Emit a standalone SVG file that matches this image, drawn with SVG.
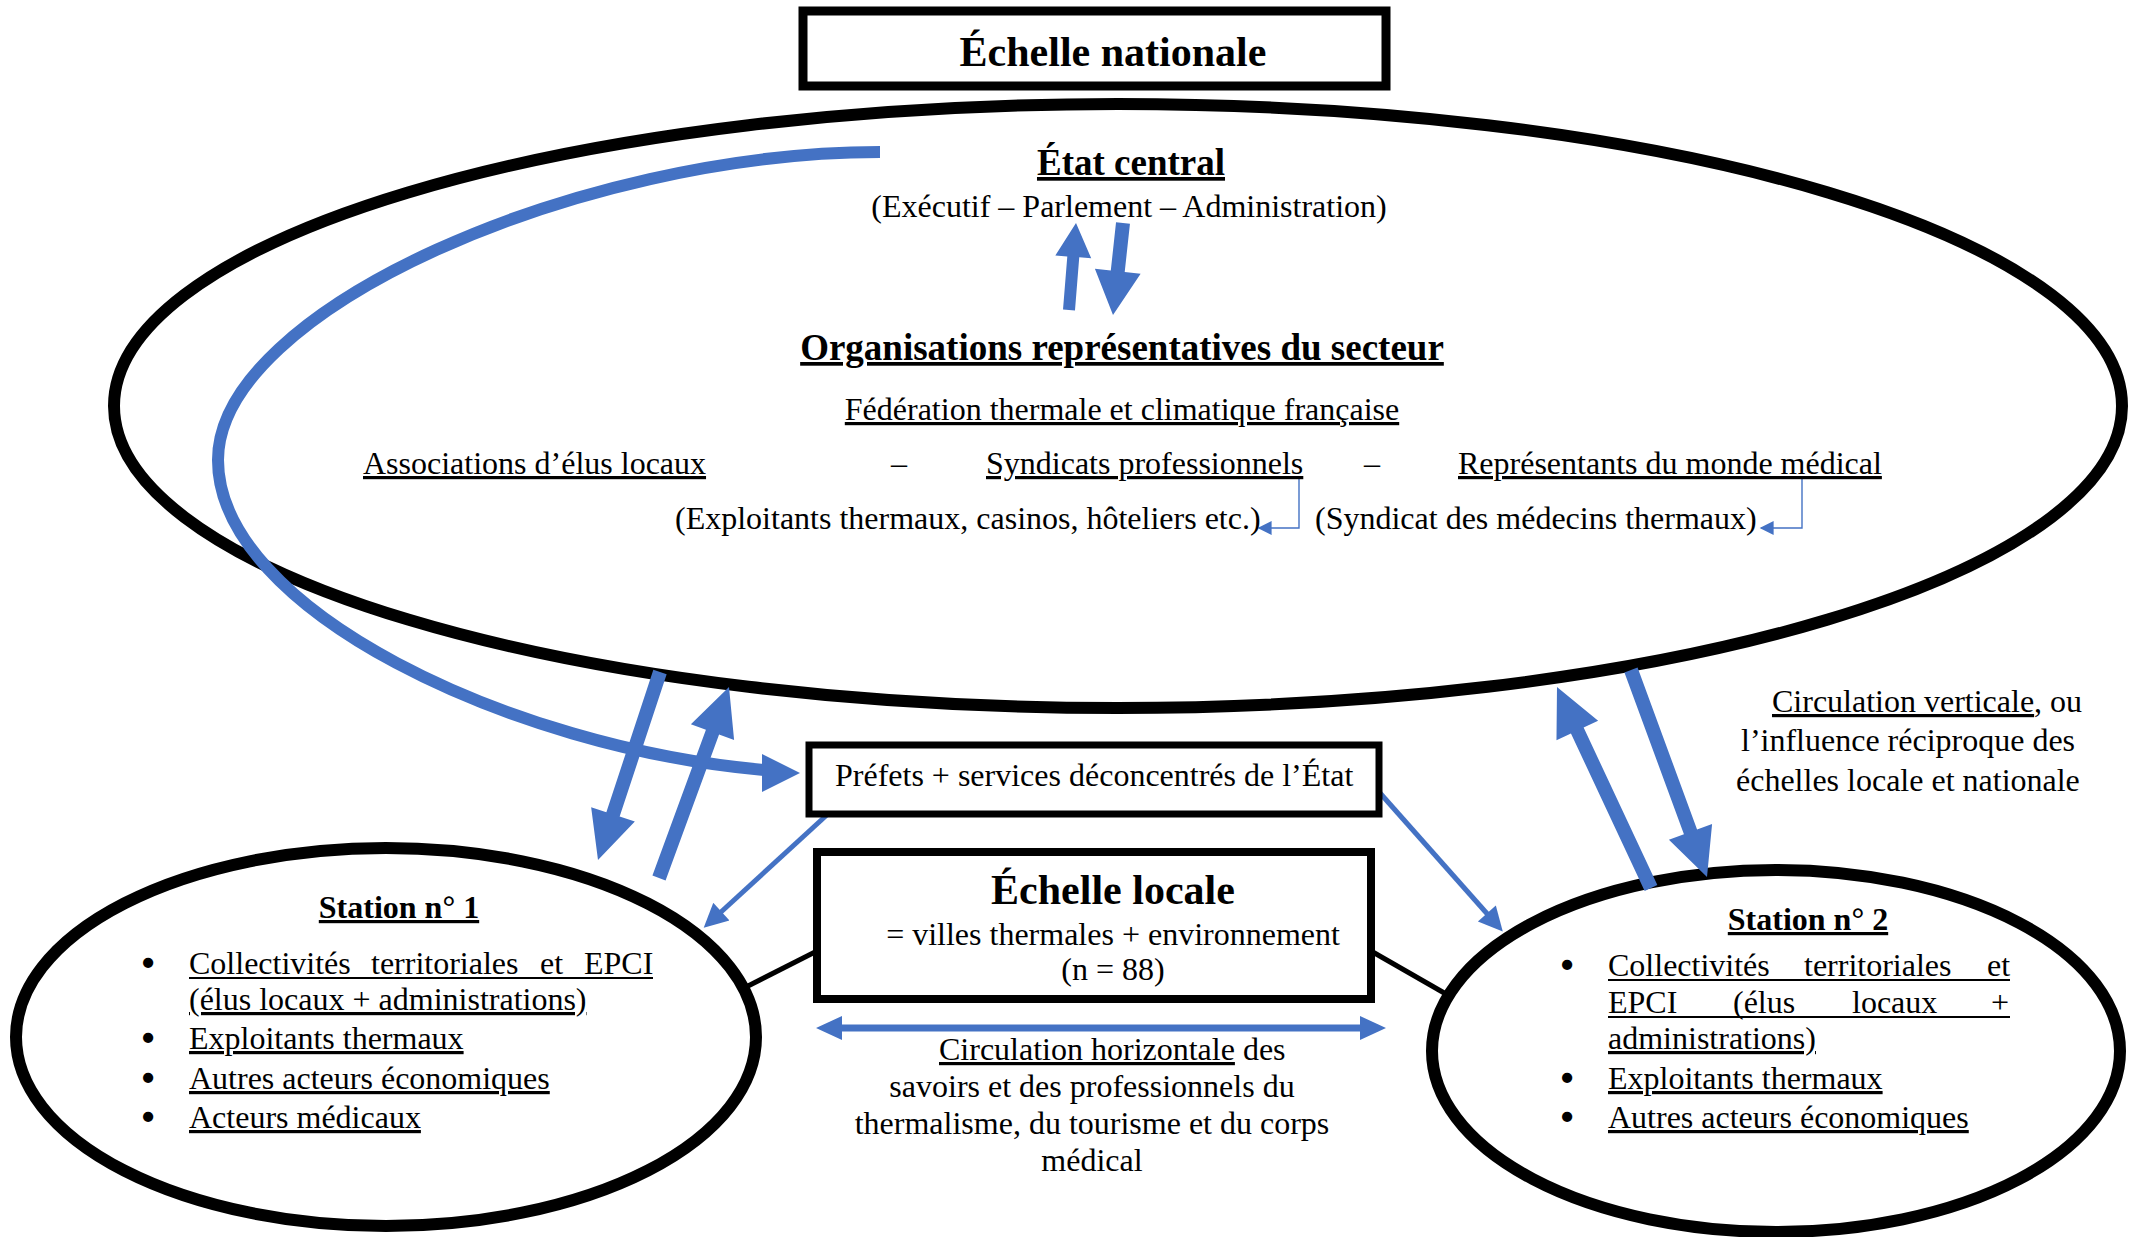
<svg xmlns="http://www.w3.org/2000/svg" width="2141" height="1237" viewBox="0 0 2141 1237">
<style>
text{font-family:"Liberation Serif","Times New Roman",serif;fill:#000}
.t32{font-size:32px}
.b37{font-size:37px;font-weight:bold}
.b42{font-size:42px;font-weight:bold}
.b32{font-size:32px;font-weight:bold}
.bul{font-size:32px;text-anchor:middle;stroke:#000;stroke-width:2.6}
.u{text-decoration:underline}
.mid{text-anchor:middle}
.oval{fill:none;stroke:#000;stroke-width:12}
.box{fill:#fff;stroke:#000}
.blk{stroke:#000;stroke-width:5;fill:none}
.blue{fill:#4472C4}
.thin{stroke:#4472C4;stroke-width:5;fill:none}
.elbow{stroke:#4472C4;stroke-width:1.4;fill:none}
.ul{stroke:#000;stroke-width:1.8}
</style>
<defs>
<marker id="ah" viewBox="0 0 10 10" refX="7" refY="5" markerWidth="26" markerHeight="24" markerUnits="userSpaceOnUse" orient="auto">
<path d="M0,0 L10,5 L0,10 z" fill="#4472C4"/>
</marker>
<marker id="ahs" viewBox="0 0 10 10" refX="9" refY="5" markerWidth="15" markerHeight="14" markerUnits="userSpaceOnUse" orient="auto">
<path d="M0,0 L10,5 L0,10 z" fill="#4472C4"/>
</marker>
</defs>
<rect width="2141" height="1237" fill="#fff"/>

<g id="national-scale">
<ellipse class="oval" cx="1118" cy="406" rx="1004" ry="302"/>
</g>

<g id="station-1">
<ellipse class="oval" cx="386" cy="1037" rx="370" ry="189"/>
<text class="b32 u mid" x="399" y="918">Station n° 1</text>
<text class="bul" x="148" y="974">•</text>
<text class="t32" x="189" y="974">Collectivités</text>
<text class="t32" x="371" y="974">territoriales</text>
<text class="t32" x="540" y="974">et</text>
<text class="t32" x="584" y="974">EPCI</text>
<line class="ul" x1="189" y1="978" x2="653" y2="978"/>
<text class="t32 u" x="189" y="1010">(élus locaux + administrations)</text>
<text class="bul" x="148" y="1049">•</text>
<text class="t32 u" x="189" y="1049">Exploitants thermaux</text>
<text class="bul" x="148" y="1089">•</text>
<text class="t32 u" x="189" y="1089">Autres acteurs économiques</text>
<text class="bul" x="148" y="1128">•</text>
<text class="t32 u" x="189" y="1128">Acteurs médicaux</text>
</g>

<g id="station-2">
<ellipse class="oval" cx="1776" cy="1051" rx="344" ry="181"/>
<text class="b32 u mid" x="1808" y="930">Station n° 2</text>
<text class="bul" x="1567" y="976">•</text>
<text class="t32" x="1608" y="976">Collectivités</text>
<text class="t32" x="1804" y="976">territoriales</text>
<text class="t32" x="1987" y="976">et</text>
<line class="ul" x1="1608" y1="980" x2="2010" y2="980"/>
<text class="t32" x="1608" y="1013">EPCI</text>
<text class="t32" x="1733" y="1013">(élus</text>
<text class="t32" x="1852" y="1013">locaux</text>
<text class="t32" x="1991" y="1013">+</text>
<line class="ul" x1="1608" y1="1017" x2="2010" y2="1017"/>
<text class="t32 u" x="1608" y="1049">administrations)</text>
<text class="bul" x="1567" y="1089">•</text>
<text class="t32 u" x="1608" y="1089">Exploitants thermaux</text>
<text class="bul" x="1567" y="1128">•</text>
<text class="t32 u" x="1608" y="1128">Autres acteurs économiques</text>
</g>

<g id="connectors">
<line class="blk" x1="748" y1="986" x2="817" y2="951"/>
<line class="blk" x1="1371" y1="951" x2="1446" y2="994"/>
<path class="elbow" d="M1275 478 H1299 V528 H1259" marker-end="url(#ahs)"/>
<path class="elbow" d="M1779 478 H1802 V528 H1761" marker-end="url(#ahs)"/>
<path d="M880 152 C580 152 218 310 218 460 C218 610 512 748 764 770" fill="none" stroke="#4472C4" stroke-width="12"/>
<polygon class="blue" points="762,754 800,773 762,792"/>
<line class="thin" x1="829" y1="813" x2="709" y2="923" marker-end="url(#ah)"/>
<line class="thin" x1="1380" y1="793" x2="1498" y2="926" marker-end="url(#ah)"/>
<polygon class="blue" points="1074.98,310.48 1079.25,257.36 1091.21,258.32 1076,223 1055.33,255.44 1067.29,256.4 1063.02,309.52"/>
<polygon class="blue" points="1129.96,223.76 1124.71,272.02 1140.61,273.74 1113,315 1094.89,268.78 1110.79,270.5 1116.04,222.24"/>
<polygon class="blue" points="666.65,674.19 619.65,816.59 634.85,821.6 598,860 591.15,807.2 606.35,812.21 653.35,669.81"/>
<polygon class="blue" points="665.57,880.41 719.07,734.51 734.1,740.01 729,687 690.9,724.19 705.93,729.69 652.43,875.59"/>
<polygon class="blue" points="1657.34,885.03 1583.64,727.53 1598.13,720.76 1557,687 1556.47,740.24 1570.96,733.47 1644.66,890.97"/>
<polygon class="blue" points="1637.57,667.59 1697.07,829.49 1712.09,823.97 1707,877 1668.91,839.83 1683.93,834.31 1624.43,672.41"/>
<polygon class="blue" points="816,1028 842,1016 842,1024.5 1360,1024.5 1360,1016 1386,1028 1360,1040 1360,1031.5 842,1031.5 842,1040"/>
</g>

<g id="national-title">
<rect class="box" x="803" y="11" width="583" height="75" stroke-width="9"/>
<text class="b42 mid" x="1113" y="66">Échelle nationale</text>
</g>

<g id="etat-central">
<text class="b37 u mid" x="1131" y="175">État central</text>
<text class="t32 mid" x="1129" y="217">(Exécutif – Parlement – Administration)</text>
</g>

<g id="organisations">
<text class="b37 u mid" x="1122" y="360">Organisations représentatives du secteur</text>
<text class="t32 u mid" x="1122" y="420">Fédération thermale et climatique française</text>
<text class="t32 u" x="363" y="474">Associations d’élus locaux</text>
<text class="t32 mid" x="899" y="474">–</text>
<text class="t32 u" x="986" y="474">Syndicats professionnels</text>
<text class="t32 mid" x="1372" y="474">–</text>
<text class="t32 u" x="1458" y="474">Représentants du monde médical</text>
<text class="t32" x="675" y="529">(Exploitants thermaux, casinos, hôteliers etc.)</text>
<text class="t32" x="1315" y="529">(Syndicat des médecins thermaux)</text>
</g>

<g id="prefets">
<rect class="box" x="809" y="745" width="570" height="69" stroke-width="7"/>
<text class="t32" x="835" y="786">Préfets + services déconcentrés de l’État</text>
</g>

<g id="echelle-locale">
<rect class="box" x="817" y="852" width="554" height="147" stroke-width="8"/>
<text class="b42 mid" x="1113" y="904">Échelle locale</text>
<text class="t32 mid" x="1113" y="945">= villes thermales + environnement</text>
<text class="t32 mid" x="1113" y="980">(n = 88)</text>
</g>

<g id="label-horizontal">
<text class="t32" x="939" y="1060"><tspan class="u">Circulation horizontale</tspan> des</text>
<text class="t32 mid" x="1092" y="1097">savoirs et des professionnels du</text>
<text class="t32 mid" x="1092" y="1134">thermalisme, du tourisme et du corps</text>
<text class="t32 mid" x="1092" y="1171">médical</text>
</g>

<g id="label-vertical">
<text class="t32" x="1772" y="712"><tspan class="u">Circulation verticale</tspan>, ou</text>
<text class="t32" x="1741" y="751">l’influence réciproque des</text>
<text class="t32" x="1736" y="791">échelles locale et nationale</text>
</g>
</svg>
